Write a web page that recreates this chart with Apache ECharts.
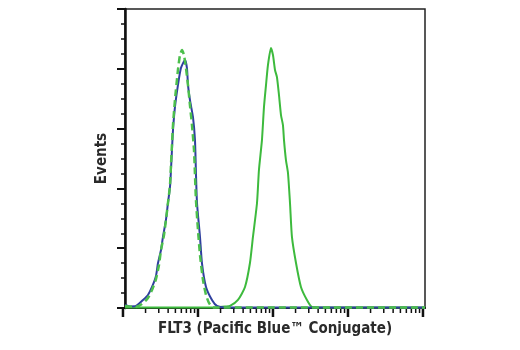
<!DOCTYPE html>
<html>
<head>
<meta charset="utf-8">
<script src="https://cdn.jsdelivr.net/npm/echarts@6/dist/echarts.min.js"></script>
<style>
html, body { margin: 0; padding: 0; background: #fff; }
#chart { width: 520px; height: 350px; }
</style>
</head>
<body>
<div id="chart"></div>
<script>
// x values are log10 of fluorescence, y values are event counts
var blueCurve = [
	[0.027, 2.5], [0.093, 1.3], [0.173, 1.7], [0.267, 6.7], [0.333, 10.9], [0.387, 17.6],
	[0.44, 26.8], [0.467, 37.6], [0.507, 48.5], [0.533, 59.4], [0.573, 73.6], [0.6, 87.8],
	[0.627, 101.2], [0.64, 115.4], [0.653, 132.1], [0.667, 148.8], [0.693, 168], [0.733, 186.4],
	[0.773, 200.6], [0.827, 207.3], [0.853, 200.6], [0.867, 186.4], [0.893, 173.9], [0.933, 159.7],
	[0.96, 140.4], [0.973, 112.9], [0.987, 87.8], [1.027, 59.4], [1.053, 37.6], [1.107, 17.6],
	[1.187, 6.7], [1.253, 1.7], [1.36, 0.4], [2.36, 0.4], [4.027, 0.4]
];
var greenDashed = [
	[0.027, 1.7], [0.16, 0.8], [0.253, 3.3], [0.333, 8.4], [0.387, 15], [0.44, 24.2],
	[0.48, 35.9], [0.507, 48.5], [0.547, 61], [0.573, 73.6], [0.6, 87.8], [0.627, 102.8],
	[0.64, 119.5], [0.653, 136.3], [0.667, 153], [0.693, 173.9], [0.733, 199], [0.76, 211.5],
	[0.787, 215.7], [0.813, 211.5], [0.84, 200.6], [0.867, 186.4], [0.893, 169.7], [0.92, 153],
	[0.947, 132.1], [0.96, 111.2], [0.973, 90.3], [1.0, 65.2], [1.027, 44.3], [1.067, 23.4],
	[1.107, 10.9], [1.147, 4.2], [1.2, 0.4], [4.027, 0.4]
];
var greenSolid = [
	[0.027, 0.4], [1.227, 0.4], [1.36, 1.3], [1.427, 1.7], [1.533, 6.7], [1.627, 17.6],
	[1.693, 37.6], [1.733, 59.4], [1.787, 87.8], [1.813, 115.4], [1.853, 140.4], [1.88, 168],
	[1.907, 186.4], [1.933, 203.1], [1.973, 217.4], [2.0, 211.5], [2.027, 199], [2.053, 193.1],
	[2.08, 178.1], [2.107, 161.3], [2.133, 153], [2.147, 140.4], [2.173, 123.7], [2.2, 112.9],
	[2.227, 87.8], [2.253, 59.4], [2.307, 37.6], [2.373, 17.6], [2.453, 6.7], [2.52, 0.8],
	[2.627, 0.4], [4.027, 0.4]
];
var decades = [1, 10, 100, 1000, 10000];
var minorSteps = [2, 3, 4, 5, 6, 7, 8, 9];
var xTitle = 'FLT3 (Pacific Blue™ Conjugate)';
var yTitle = 'Events';

// log tick marks for the bottom axis
var xTicks = [];
decades.forEach(function (d, i) {
	xTicks.push([Math.log10(d), 1]);
	if (i < decades.length - 1) {
		minorSteps.forEach(function (m) { xTicks.push([Math.log10(d * m), 0]); });
	}
});

var titleFont = {
	fontFamily: '"DejaVu Sans Condensed", "Roboto Condensed", "Liberation Sans", sans-serif',
	fontWeight: 'bold', fontSize: 15, color: '#2a2a2a'
};

var chart = echarts.init(document.getElementById('chart'));
chart.setOption({
	animation: false,
	grid: {
		left: 125, right: 95, top: 9, bottom: 42,
		show: true, borderColor: '#222', borderWidth: 1.5
	},
	xAxis: {
		type: 'value', min: 0.027, max: 4.027,
		name: xTitle, nameLocation: 'middle', nameGap: 14,
		nameTextStyle: titleFont,
		axisLine: { show: true, lineStyle: { color: '#111', width: 2 } },
		axisTick: { show: false }, axisLabel: { show: false }, splitLine: { show: false }
	},
	yAxis: {
		type: 'value', min: 0, max: 250, interval: 50,
		name: yTitle, nameLocation: 'middle', nameGap: 15,
		nameTextStyle: titleFont,
		axisLine: { show: true, lineStyle: { color: '#111', width: 2.5 } },
		axisTick: { show: true, length: 8, lineStyle: { color: '#111', width: 2 } },
		minorTick: { show: true, splitNumber: 4, length: 4, lineStyle: { color: '#111', width: 1.5 } },
		axisLabel: { show: false }, splitLine: { show: false }
	},
	series: [{
		type: 'custom', silent: true, clip: false,
		data: xTicks,
		renderItem: function (params, api) {
			var p = api.coord([api.value(0), 0]);
			var major = api.value(1) === 1;
			return {
				type: 'line',
				shape: { x1: p[0], y1: p[1], x2: p[0], y2: p[1] + (major ? 9 : 5) },
				style: { stroke: '#111', lineWidth: major ? 2.5 : 1.5 }
			};
		}
	}, {
		type: 'line', data: greenSolid, showSymbol: false, smooth: 0.2,
		lineStyle: { color: '#3dba3d', width: 2 }
	}, {
		type: 'line', data: blueCurve, showSymbol: false, smooth: 0.2,
		lineStyle: { color: '#2f3f9e', width: 2 }
	}, {
		type: 'line', data: greenDashed, showSymbol: false, smooth: 0.2,
		lineStyle: { color: '#4cbf4c', width: 2.5, type: [7, 4] }
	}]
});
</script>
</body>
</html>
